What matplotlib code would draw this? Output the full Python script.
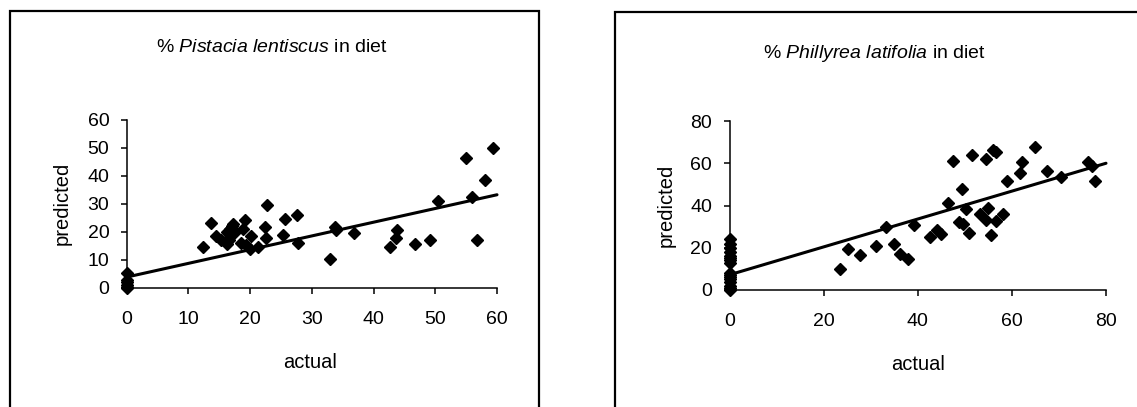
import matplotlib
matplotlib.use("Agg")
import matplotlib.pyplot as plt
from matplotlib.patches import Rectangle
import numpy as np

plt.rcParams['font.family'] = ['Liberation Sans', 'DejaVu Sans']
plt.rcParams['mathtext.fontset'] = 'custom'
plt.rcParams['mathtext.rm'] = 'Liberation Sans'
plt.rcParams['mathtext.it'] = 'Liberation Sans:italic'

# ---- Data: Pistacia lentiscus (left panel) ----
pist_actual = [0, 0, 0, 0, 0, 0,
               12.3, 13.7, 14.4, 15.3, 16.2, 16.5, 16.8, 17.0, 17.3, 16.5, 16.2,
               17.6, 18.9, 19.2, 18.6, 19.4, 20.0, 20.2, 21.3, 22.4, 22.8, 22.5,
               25.3, 25.6, 27.6, 27.7, 33.0, 33.7, 33.9, 36.9, 42.7, 43.6, 43.8,
               46.7, 49.1, 50.5, 55.0, 56.0, 56.7, 58.0, 59.3]
pist_pred = [5.5, 3.0, 2.0, 1.0, 0.5, 0.0,
             14.6, 23.2, 18.7, 17.0, 19.9, 17.0, 21.0, 22.2, 22.8, 18.0, 15.8,
             19.9, 21.0, 24.2, 16.0, 15.2, 14.0, 18.4, 14.6, 21.9, 29.5, 17.8,
             19.1, 24.6, 26.0, 16.0, 10.5, 21.9, 20.7, 19.5, 14.6, 17.9, 20.7,
             15.6, 17.0, 31.0, 46.4, 32.4, 17.0, 38.6, 49.9]
pist_trend_x = [0, 60]
pist_trend_y = [3.9, 33.3]

# ---- Data: Phillyrea latifolia (right panel) ----
phil_actual = [0] * 16 + [
    23.5, 25.2, 27.8, 31.2, 33.3, 35.0, 36.3, 38.0, 39.3, 42.6, 44.0, 45.0,
    46.5, 47.4, 48.7, 49.5, 49.6, 50.2, 50.8, 51.6, 53.2, 54.5, 54.5, 55.0,
    55.5, 55.9, 56.7, 56.7, 58.2, 59.0, 61.7, 62.1, 65.0, 67.4, 70.4, 76.2,
    77.0, 77.7]
phil_pred = [24, 22, 20, 18, 16, 15, 14, 13, 8, 7, 6, 5, 4, 2, 1, 0] + [
    10.0, 19.6, 16.8, 20.7, 29.8, 21.6, 16.9, 14.7, 30.7, 25.1, 28.2, 26.4,
    41.4, 61.0, 32.2, 47.8, 31.1, 38.4, 27.1, 64.0, 35.8, 62.0, 32.9, 38.7,
    25.9, 66.2, 65.1, 32.6, 35.8, 51.8, 55.4, 60.4, 67.8, 56.5, 53.6, 60.4,
    58.8, 51.8]
phil_trend_x = [0, 80]
phil_trend_y = [7.2, 60.0]

titles = ["Pistacia lentiscus", "Phillyrea latifolia"]
x_label = "actual"
y_label = "predicted"

W, H = 1137, 407
fig = plt.figure(figsize=(W / 100, H / 100), dpi=100)
fig.patch.set_facecolor('white')


def px(x, y):
    return x / W, 1 - y / H


def make_axes(l, r, t, b):
    return fig.add_axes([l / W, 1 - b / H, (r - l) / W, (b - t) / H])


panels = [
    dict(ax=(126.7, 497.0, 120.0, 288.0), xs=pist_actual, ys=pist_pred,
         tx=pist_trend_x, ty=pist_trend_y, lim=60, step=10, title=titles[0],
         tpos=(272, 48), xlpos=(310, 362), ylpos=(62, 203)),
    dict(ax=(729.5, 1106.0, 121.0, 290.0), xs=phil_actual, ys=phil_pred,
         tx=phil_trend_x, ty=phil_trend_y, lim=80, step=20, title=titles[1],
         tpos=(874, 53), xlpos=(918, 365), ylpos=(666, 205)),
]

for p in panels:
    ax = make_axes(*p['ax'])
    ax.set_facecolor('none')
    ax.plot(p['tx'], p['ty'], color='black', lw=2.2, solid_capstyle='round',
            zorder=2, clip_on=False)
    ax.plot(p['xs'], p['ys'], linestyle='none', marker='D', markersize=6,
            color='black', zorder=3, clip_on=False)
    ax.set_xlim(0, p['lim'])
    ax.set_ylim(0, p['lim'])
    ticks = np.arange(0, p['lim'] + 1, p['step'])
    ax.set_xticks(ticks)
    ax.set_yticks(ticks)
    for s in ['top', 'right']:
        ax.spines[s].set_visible(False)
    for s in ['left', 'bottom']:
        ax.spines[s].set_linewidth(1.1)
        ax.spines[s].set_color('black')
    ax.tick_params(direction='out', length=4.5, width=1.1, colors='black',
                   labelsize=14)
    ax.tick_params(axis='x', pad=12)
    ax.tick_params(axis='y', pad=8)
    # titles and labels
    tx, ty = px(*p['tpos'])
    fig.text(tx, ty, r"% $\mathit{" + p['title'].replace(" ", r"\ ") + r"}$ in diet",
             ha='center', va='center', fontsize=14)
    xx, xy = px(*p['xlpos'])
    fig.text(xx, xy, x_label, ha='center', va='center', fontsize=14.5)
    yx, yy = px(*p['ylpos'])
    fig.text(yx, yy, y_label, ha='center', va='center', fontsize=14.5,
             rotation=90)

# panel frames (bottom and right edges run past the image)
fig.patches.append(Rectangle((9.5 / W, -0.1), (539 - 9.5) / W, 1.1 - 11 / H,
                             transform=fig.transFigure, fill=False,
                             edgecolor='black', lw=1.6))
fig.patches.append(Rectangle((615 / W, -0.1), 0.5, 1.1 - 12 / H,
                             transform=fig.transFigure, fill=False,
                             edgecolor='black', lw=1.6))

fig.savefig("out.png", dpi=100, facecolor='white')
